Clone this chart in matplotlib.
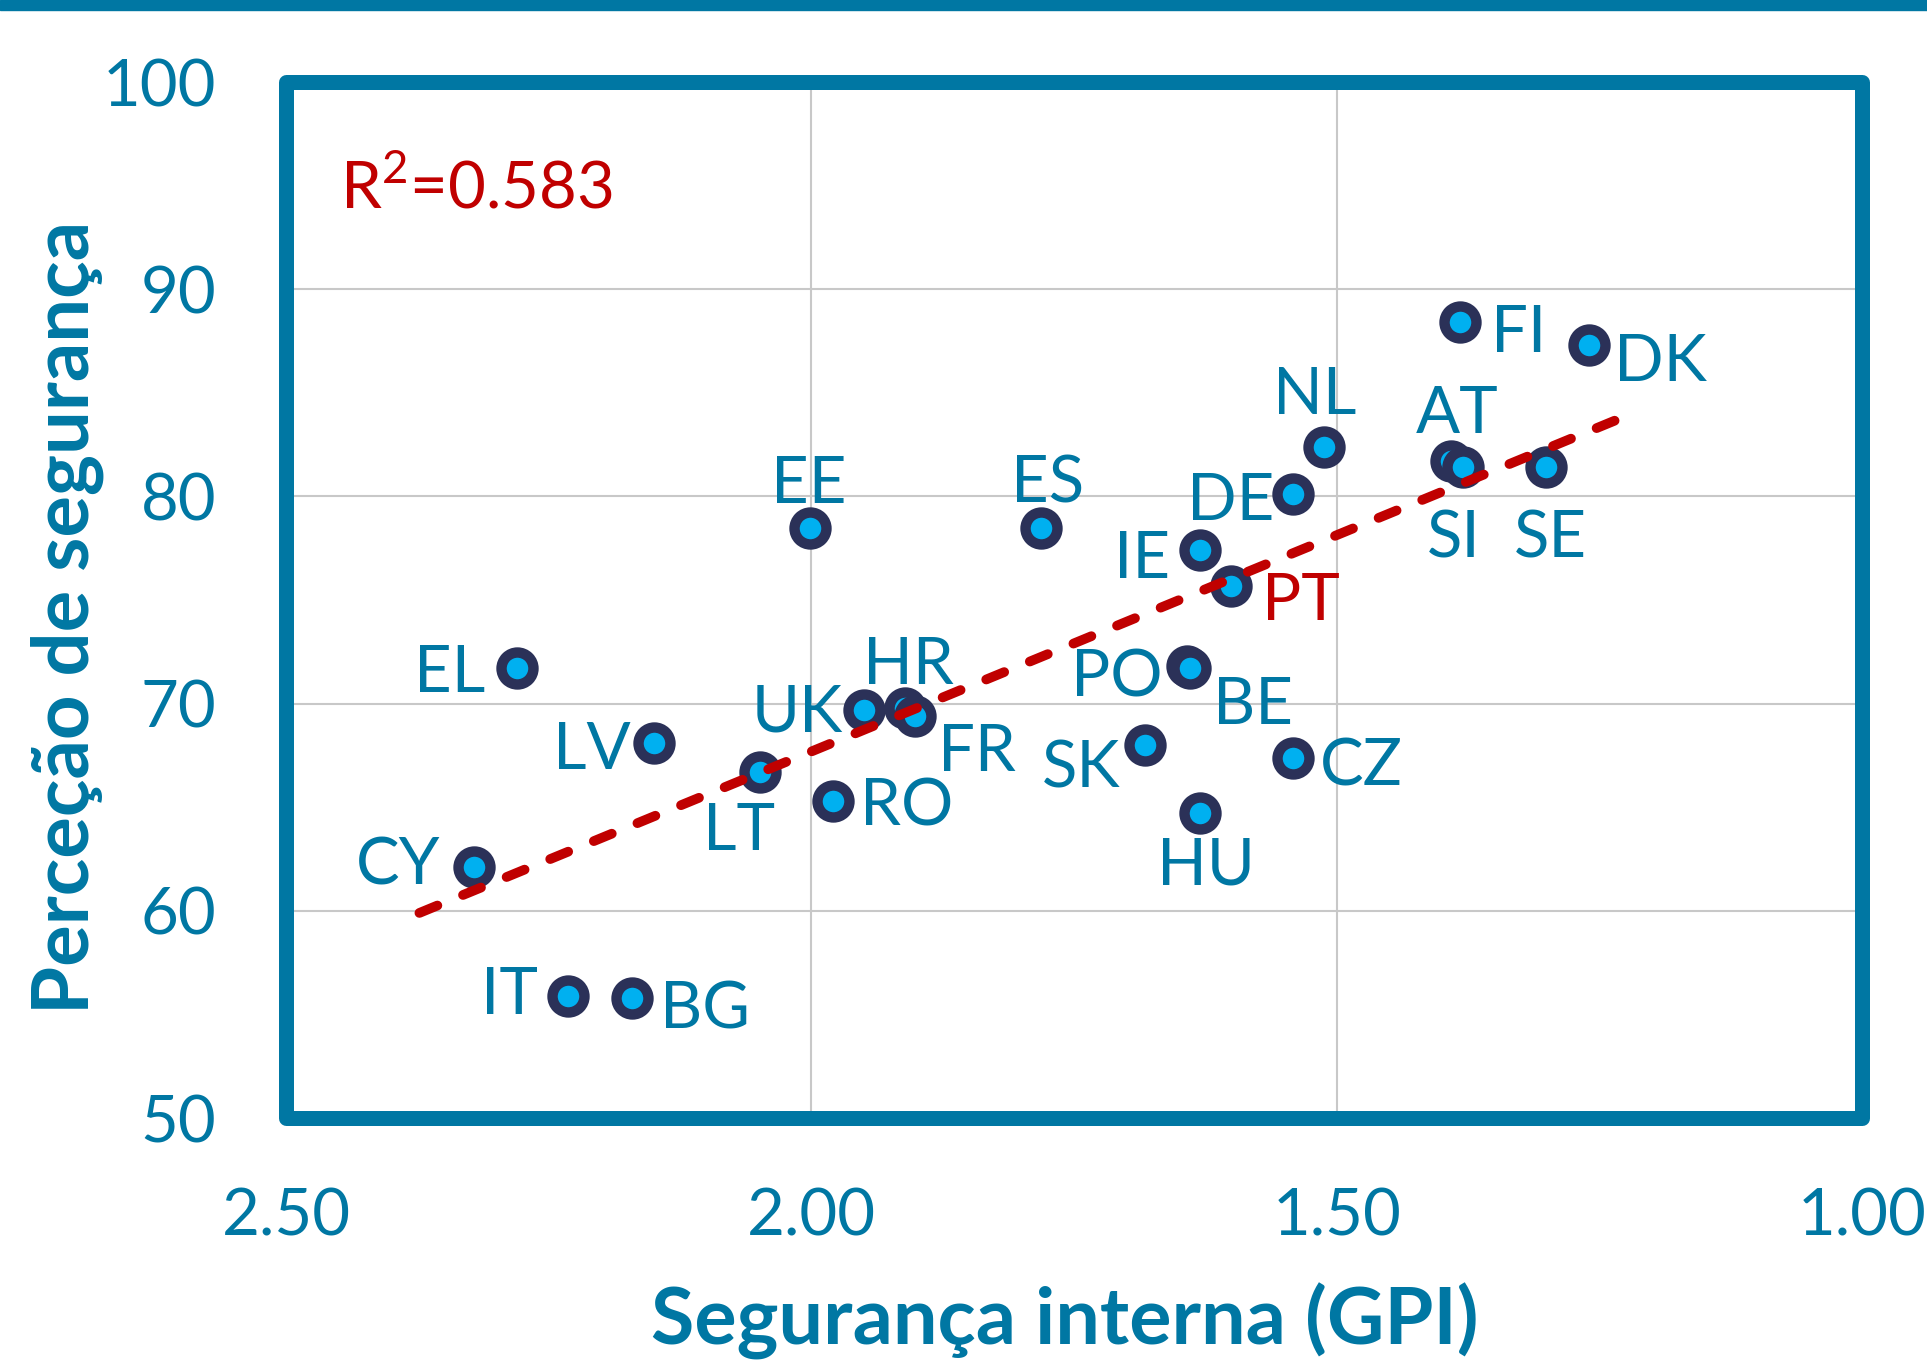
import matplotlib.pyplot as plt
from matplotlib.patches import Rectangle

# Countries: GPI score (x, lower = safer) vs perceived safety (y)
countries = ['FI', 'DK', 'NL', 'AT', 'SI', 'SE', 'DE', 'EE', 'ES', 'IE', 'PT',
             'EL', 'PO', 'BE', 'UK', 'HR', 'FR', 'LV', 'SK', 'LT', 'CZ', 'RO',
             'HU', 'CY', 'IT', 'BG']
gpi = [1.383, 1.260, 1.512, 1.391, 1.380, 1.301, 1.542, 2.001, 1.781, 1.630, 1.601,
       2.280, 1.642, 1.640, 1.950, 1.911, 1.901, 2.150, 1.682, 2.049, 1.542, 1.979,
       1.630, 2.321, 2.232, 2.171]
perception = [88.4, 87.3, 82.4, 81.7, 81.4, 81.4, 80.1, 78.5, 78.5, 77.4, 75.7,
              71.7, 71.8, 71.7, 69.7, 69.8, 69.4, 68.1, 68.0, 66.7, 67.4, 65.3,
              64.7, 62.1, 55.9, 55.8]

# trend line
trend_x = [2.373, 1.219]
trend_y = [59.9, 84.0]
r2_text = r'R$^{\mathregular{2}}$=0.583'

x_ticks = [2.5, 2.0, 1.5, 1.0]
y_ticks = [50, 60, 70, 80, 90, 100]

# label placement (offset in pixels, horizontal alignment)
label_pos = {
    'FI': (31, -6, 'left'), 'DK': (25, -12, 'left'), 'NL': (-9, 57, 'center'),
    'AT': (6, 52, 'center'), 'SI': (-9, -66, 'center'), 'SE': (5, -66, 'center'),
    'DE': (-18, -2, 'right'), 'EE': (-2, 49, 'center'), 'ES': (6, 49, 'center'),
    'IE': (-30, -4, 'right'), 'PT': (31, -10, 'left'), 'EL': (-32, 0, 'right'),
    'PO': (-25, -6, 'right'), 'BE': (23, -32, 'left'), 'UK': (-21, 2, 'right'),
    'HR': (4, 48, 'center'), 'FR': (23, -31, 'left'), 'LV': (-23, -2, 'right'),
    'SK': (-25, -18, 'right'), 'LT': (-21, -54, 'center'), 'CZ': (27, -4, 'left'),
    'RO': (27, 0, 'left'), 'HU': (6, -47, 'center'), 'CY': (-34, 7, 'right'),
    'IT': (-30, 6, 'right'), 'BG': (28, -7, 'left'),
}

blue = '#0077A3'
red = '#C00000'

plt.rcParams['font.family'] = ['Lato', 'DejaVu Sans']
plt.rcParams['mathtext.fontset'] = 'custom'
plt.rcParams['mathtext.rm'] = 'Lato'

fig = plt.figure(figsize=(19.27, 13.67), dpi=100)
ax = fig.add_axes([0.1484, 0.1821, 0.8179, 0.7579])

ax.set_xlim(2.5, 1.0)
ax.set_ylim(50, 100)
ax.set_xticks(x_ticks)
ax.set_yticks(y_ticks)
ax.set_xticklabels([f'{v:.2f}' for v in x_ticks])
ax.tick_params(length=0, labelsize=47, labelcolor=blue)
ax.tick_params(axis='x', pad=50)
ax.tick_params(axis='y', pad=50)
ax.grid(True, color='#C8C8C8', linewidth=1.5)
ax.set_axisbelow(True)

for s in ax.spines.values():
    s.set_visible(False)
ax.add_patch(Rectangle((0, 0), 1, 1, transform=ax.transAxes, fill=False,
                       edgecolor=blue, linewidth=10.8, joinstyle='round',
                       clip_on=False, zorder=5))

ax.plot(gpi, perception, 'o', markersize=23, markerfacecolor='#00B0F0',
        markeredgecolor='#2B3158', markeredgewidth=7.5, zorder=3)
ax.plot(trend_x, trend_y, color=red, linewidth=7, linestyle=(0, (2.0, 2.85)),
        dash_capstyle='round', zorder=4)

for c, x, y in zip(countries, gpi, perception):
    dx, dy, ha = label_pos[c]
    ax.annotate(c, (x, y), xytext=(dx, dy), textcoords='offset pixels',
                ha=ha, va='center_baseline', fontsize=47,
                color=red if c == 'PT' else blue, zorder=6)

ax.text(0.034, 0.903, r2_text, transform=ax.transAxes, fontsize=47,
        color=red, ha='left', va='center_baseline')

fig.text(0.0348, 0.548, 'Perceção de segurança', rotation=90, ha='center',
         va='center', fontsize=56, fontweight='bold', color=blue)
fig.text(0.5527, 0.0337, 'Segurança interna (GPI)', ha='center', va='center',
         fontsize=57, fontweight='bold', color=blue)

# top band
fig.add_artist(Rectangle((0, 1 - 10 / 1367), 1, 10 / 1367,
                         transform=fig.transFigure, color=blue, zorder=0))

fig.savefig('out.png', dpi=100)
